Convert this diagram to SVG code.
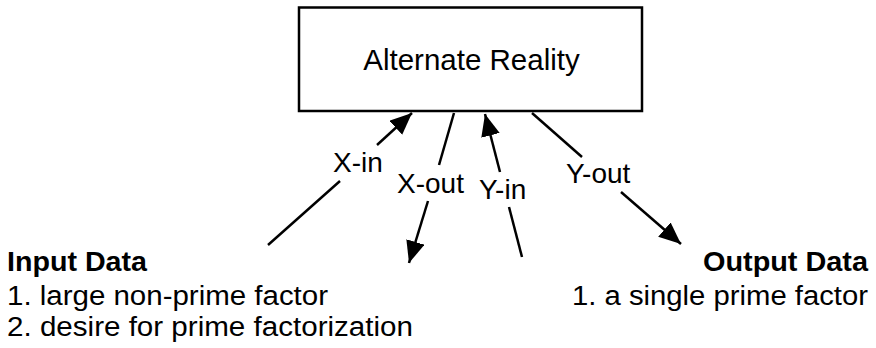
<svg xmlns="http://www.w3.org/2000/svg" width="876" height="348" viewBox="0 0 876 348">
<style>
.t{font-family:"Liberation Sans",Arial,sans-serif;fill:#000}
.lbl{font-size:28px}
.big{font-size:29.5px}
.body{font-size:27px}
.bold{font-weight:bold}
.ln{stroke:#000;stroke-width:2.5;fill:none;stroke-linecap:butt}
</style>
<defs>
<marker id="ah" markerUnits="userSpaceOnUse" markerWidth="23" markerHeight="20" refX="22" refY="9.5" orient="auto">
<path d="M0,0 L22,9.5 L0,19 z" fill="#000"/>
</marker>
</defs>
<g id="alternate-reality">
<rect x="299" y="7.5" width="343" height="103.5" fill="#fff" stroke="#000" stroke-width="2.5"/>
<text class="t big" x="471.5" y="70" text-anchor="middle">Alternate Reality</text>
</g>
<g id="input-data">
<text class="t body bold" x="7" y="271" textLength="140" lengthAdjust="spacingAndGlyphs">Input Data</text>
<text class="t body" x="7" y="305" textLength="321" lengthAdjust="spacingAndGlyphs">1. large non-prime factor</text>
<text class="t body" x="7" y="336" textLength="406" lengthAdjust="spacingAndGlyphs">2. desire for prime factorization</text>
</g>
<g id="output-data">
<text class="t body bold" x="703" y="271" textLength="165" lengthAdjust="spacingAndGlyphs">Output Data</text>
<text class="t body" x="572" y="305" textLength="296" lengthAdjust="spacingAndGlyphs">1. a single prime factor</text>
</g>
<g id="connectors">
<g id="x-in">
<line class="ln" x1="268" y1="245" x2="340" y2="181"/>
<line class="ln" x1="377" y1="145" x2="412" y2="113" marker-end="url(#ah)"/>
<text class="t lbl" x="333" y="172">X-in</text>
</g>
<g id="x-out">
<line class="ln" x1="454" y1="113" x2="439" y2="165"/>
<line class="ln" x1="428" y1="201" x2="409" y2="263" marker-end="url(#ah)"/>
<text class="t lbl" x="397" y="193">X-out</text>
</g>
<g id="y-in">
<line class="ln" x1="522" y1="257" x2="509" y2="207"/>
<line class="ln" x1="500" y1="172" x2="485" y2="114" marker-end="url(#ah)"/>
<text class="t lbl" x="479" y="199">Y-in</text>
</g>
<g id="y-out">
<line class="ln" x1="532" y1="113" x2="582" y2="157"/>
<line class="ln" x1="621" y1="192" x2="681" y2="244" marker-end="url(#ah)"/>
<text class="t lbl" x="566" y="183">Y-out</text>
</g>
</g>
</svg>
